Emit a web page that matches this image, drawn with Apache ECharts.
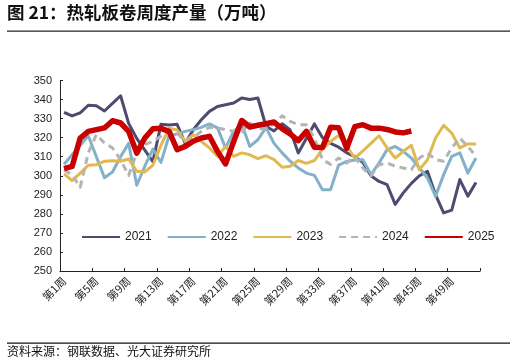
<!DOCTYPE html>
<html><head><meta charset="utf-8">
<script src="https://cdn.jsdelivr.net/npm/echarts@6/dist/echarts.min.js"></script>
<style>html,body{margin:0;padding:0;background:#fff}#c{width:516px;height:364px}</style>
</head><body><div id="c"></div>
<script>
const weeks = [];
for (let i = 1; i <= 52; i++) weeks.push('第' + i + '周');
const yTicks = [250, 260, 270, 280, 290, 300, 310, 320, 330, 340, 350];
const s2021 = [333.3,331.4,333,337,336.7,334,338,342,327.5,319.6,313.5,307.4,327,326.7,327,317,324.2,329.4,333.8,336.4,337.3,338.2,340.8,340,340.8,326,323.5,327.3,324,312,319.5,327.2,320,317,315,312,310,307,300,297,295.3,285,291,296,300,302.3,290,280.5,282,298,289.3,296.5];
const s2022 = [306,311,316,321,310,299,302,310,317,295,305,314,307,321,322,323.3,324.2,325.4,327.2,325.1,314.6,323.3,327,315.4,318.9,325.4,317,312,307.6,304.1,301.4,300.2,292.7,292.7,305.6,307.5,308.3,308.4,300.6,306.7,313.7,315.4,312.8,309.3,304.1,298.8,289.2,300.6,310.2,312,301.4,309.3];
const s2023 = [301,297.4,301.4,305.5,305.8,307.6,307.9,307.6,308.8,302.3,302,305.5,316,325,324,318,321.6,318,314.6,310.2,315.4,310.2,312,311,309,310.5,308.5,304.5,305,308,306.5,308,314,318,321.2,315.6,309.2,313,317,321,314.6,309.3,312.8,316,303.2,308.4,319.8,326.5,322.4,314.6,316.7,316.7];
const s2024 = [303,300.5,294,312,321.6,317.2,314.6,308.4,300.2,312,316.3,318.1,320.7,323.3,322.4,318.1,319.8,323.3,325.4,325.1,324.2,323.3,323,327.7,324.5,325,327,331.5,328.5,326.8,326.8,319.8,308.4,306,309.3,306.7,310,304,300,305.8,306.7,305,304.1,303.2,309.3,311.9,308.4,307.6,314.6,319.8,315.4,310.2];
const s2025 = [303.7,304.9,319.8,323.3,324.2,325.1,328.9,327.7,323.3,311.9,319.8,324.7,324.9,323.3,313.7,315.4,318.1,319.8,320.7,312.8,306.2,318,329,325.6,326.5,327.3,328.2,324.7,322,318.4,323.3,314.9,314.8,325.4,325.2,314.4,325.8,326.8,325,325,324.3,323,322.5,323.5];

const names = ['2021','2022','2023','2024','2025'];
const colors = ['#4d4b6f','#82b1c9','#e2b94f','#b4b4b4','#c80000'];
const datas = [s2021,s2022,s2023,s2024,s2025];
const widths = [3,3,3,3,5.5];

const chart = echarts.init(document.getElementById('c'), null, {renderer:'canvas'});
chart.setOption({
  animation:false,
  backgroundColor:'#fff',
  grid:{left:60,right:36,top:80.5,bottom:93},
  legend:{
    left:76, top:226, itemWidth:38, itemHeight:4, itemGap:15,
    itemStyle:{opacity:0},
    textStyle:{fontFamily:'Liberation Sans, Arial', fontSize:12, color:'#222'},
    data:names
  },
  xAxis:{
    type:'category', data:weeks, boundaryGap:true,
    axisLine:{lineStyle:{color:'#222',width:1}},
    axisTick:{show:true, inside:true, length:3, interval:3, lineStyle:{color:'#222'}},
    axisLabel:{interval:3, rotate:45, fontSize:11, color:'#222', margin:8, fontFamily:'Noto Sans CJK SC, Liberation Sans'}
  },
  yAxis:{
    type:'value', min:yTicks[0], max:yTicks[yTicks.length-1], interval:10,
    splitLine:{show:false},
    axisLine:{show:true, lineStyle:{color:'#222',width:1}},
    axisTick:{show:true, inside:true, length:3, lineStyle:{color:'#222'}},
    axisLabel:{fontSize:11, color:'#222', margin:8, fontFamily:'Liberation Sans, Arial'}
  },
  graphic:[
    {type:'text', left:7, top:4, style:{text:'图 21：热轧板卷周度产量（万吨）', font:'bold 17.5px "Noto Sans CJK SC"', fill:'#111'}},
    {type:'rect', shape:{x:7,y:30.5,width:503,height:1.3}, style:{fill:'#222'}},
    {type:'rect', shape:{x:7,y:342.5,width:503,height:1.3}, style:{fill:'#111'}},
    {type:'text', left:7, top:345, style:{text:'资料来源：钢联数据、光大证券研究所', font:'12px "Noto Sans CJK SC"', fill:'#111'}}
  ],
  series: names.map((n,i)=>({
    name:n, type:'line', data:datas[i], symbol:'none', smooth:false,
    z: i===4 ? 10 : 2+i,
    lineStyle:{color:colors[i], width:widths[i], type: i===3 ? [7,5] : 'solid', join:'round'},
    itemStyle:{color:colors[i]}
  }))
});
</script></body></html>
